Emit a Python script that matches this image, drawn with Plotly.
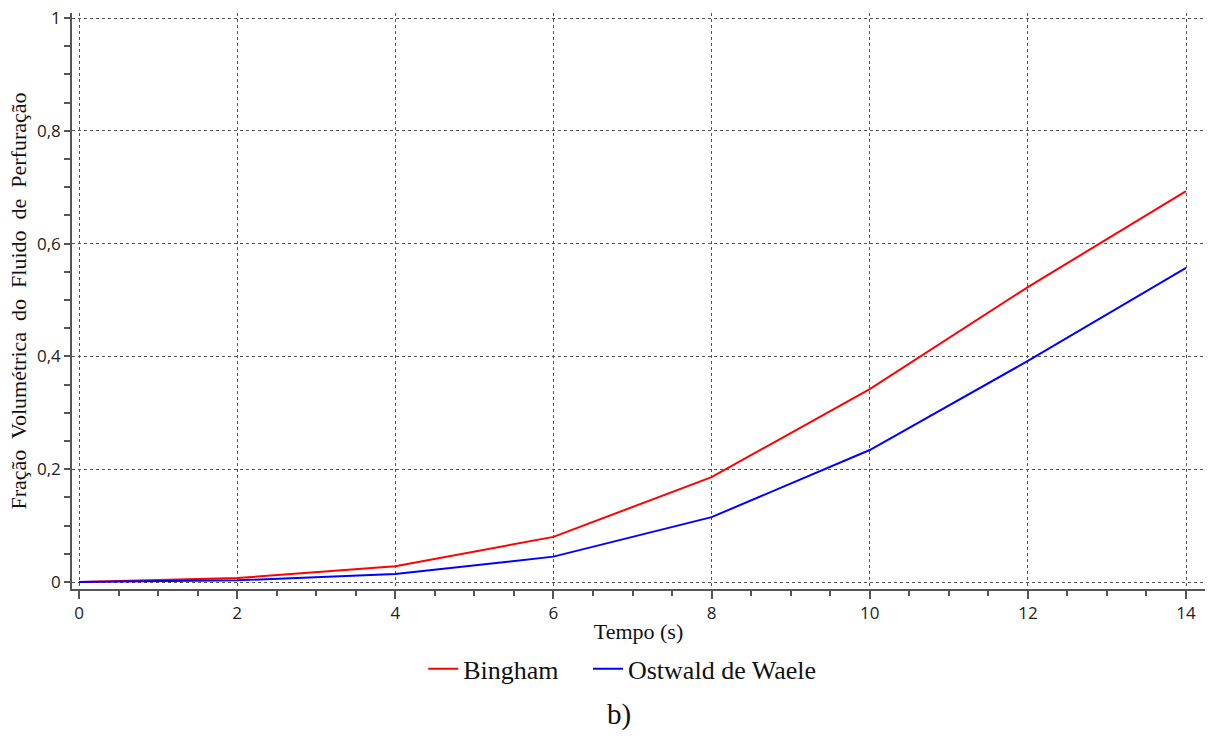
import plotly.graph_objects as go

tempo = [0, 2, 4, 6, 8, 10, 12, 14]
bingham = [0.0, 0.007, 0.028, 0.080, 0.186, 0.342, 0.523, 0.693]
ostwald = [0.0, 0.003, 0.014, 0.045, 0.115, 0.234, 0.392, 0.557]

fig = go.Figure()
fig.add_trace(go.Scatter(x=tempo, y=bingham, mode="lines", name="Bingham",
                         line=dict(color="#ff0000", width=2), legend="legend"))
fig.add_trace(go.Scatter(x=tempo, y=ostwald, mode="lines", name="Ostwald de Waele",
                         line=dict(color="#0000ff", width=2), legend="legend2"))

axis_common = dict(
    showline=True, linecolor="#555555", linewidth=1.5,
    ticks="outside", tickcolor="#555555", tickwidth=1.5,
    showgrid=True, gridcolor="#555555", griddash="dot", gridwidth=1,
    zeroline=False, automargin=False,
    tickfont=dict(family="Open Sans", size=17, color="#222222"),
)

legend_font = dict(family="Liberation Serif", size=26, color="#111")

fig.update_layout(
    width=1208, height=736,
    paper_bgcolor="white", plot_bgcolor="white",
    separators=",.",
    margin=dict(l=72, r=3, t=13, b=147),
    xaxis=dict(range=[-0.0885, 14.24], tickmode="array", tickvals=[0, 2, 4, 6, 8, 10, 12, 14],
               ticklen=8, minor=dict(dtick=0.5, tick0=0, ticklen=5, ticks="outside",
                                     tickcolor="#555555", showgrid=False),
               title=dict(text="Tempo (s)", font=dict(family="Liberation Serif", size=22, color="#111"),
                          standoff=0),
               **axis_common),
    yaxis=dict(range=[-0.0124, 1.0089], tickmode="array", tickvals=[0, 0.2, 0.4, 0.6, 0.8, 1],
               ticktext=["0", "0,2", "0,4", "0,6", "0,8", "1"],
               ticklen=6, minor=dict(dtick=0.05, tick0=0, ticklen=6, ticks="outside",
                                     tickcolor="#555555", showgrid=False),
               title=dict(text="Fração  Volumétrica  do  Fluido  de  Perfuração",
                          font=dict(family="Liberation Serif", size=22, color="#111"),
                          standoff=4),
               **axis_common),
    legend=dict(orientation="h", x=0.31, xanchor="left", y=-0.098, yanchor="top",
                font=legend_font, itemwidth=30),
    legend2=dict(orientation="h", x=0.4554, xanchor="left", y=-0.098, yanchor="top",
                 font=legend_font, itemwidth=30),
    showlegend=True,
)

fig.add_annotation(text="b)", xref="paper", yref="paper", x=0.483, y=-0.185,
                   xanchor="center", yanchor="top", showarrow=False,
                   font=dict(family="Liberation Serif", size=29, color="#111"))

fig.write_html("out.html", config={"displayModeBar": False},
               post_script="document.body.style.margin='0';")
